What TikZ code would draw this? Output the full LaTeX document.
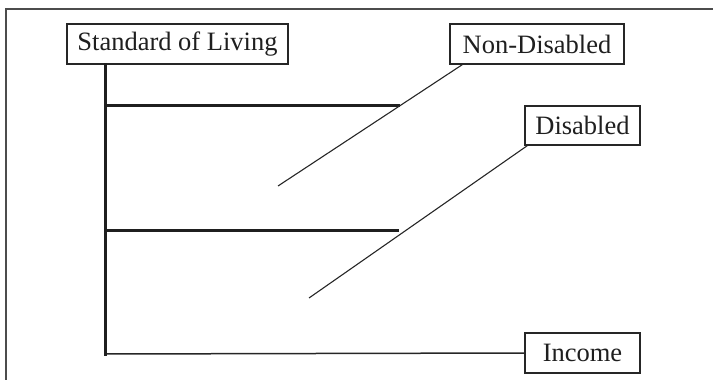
\documentclass[tikz,border=0pt]{standalone}
\usepackage{fontspec}
\setmainfont{Liberation Serif}
\usetikzlibrary{calc}
\begin{document}
\begin{tikzpicture}[x=1pt,y=-1pt,
  lbl/.style={draw=black!85,line width=1.2pt,font=\fontsize{26.5}{29}\selectfont,text=black!88,inner sep=0pt,anchor=center},
  axis/.style={line width=3pt,draw=black!88},
  thin/.style={line width=1.1pt,draw=black!85},
  frame/.style={line width=1.6pt,draw=black!70}]
\useasboundingbox (0,0) rectangle (713,380);
\draw[frame] (6,380) -- (6,9) -- (713,9);
\node[lbl,minimum width=221pt,minimum height=40pt] (std) at (177.5,44) {Standard of Living};
\node[lbl,minimum width=174pt,minimum height=40pt] (nd) at (537,44) {Non-Disabled};
\node[lbl,minimum width=115pt,minimum height=39pt] (dis) at (582.5,125.5) {Disabled};
\node[lbl,minimum width=115pt,minimum height=40pt] (inc) at (582.5,353) {Income};
\coordinate (top) at (105,64);
\coordinate (org) at (105,354);
\coordinate (h1a) at (105,105.5);
\coordinate (h1b) at (400,105.5);
\coordinate (h2a) at (105,230);
\coordinate (h2b) at (399,230);
\coordinate (d1) at (278,186);
\coordinate (d2) at (309,298);
\draw[axis] (h1a) -- (h1b);
\draw[axis] (h2a) -- (h2b);
\draw[thin,line width=1.5pt] (org) -- (inc.west);
\draw[axis,line cap=rect] (top) -- (org);
\draw[thin] (d1) -- ($(nd.south west)+(13,0)$);
\draw[thin] (d2) -- ($(dis.south west)+(3,0)$);
\end{tikzpicture}
\end{document}
